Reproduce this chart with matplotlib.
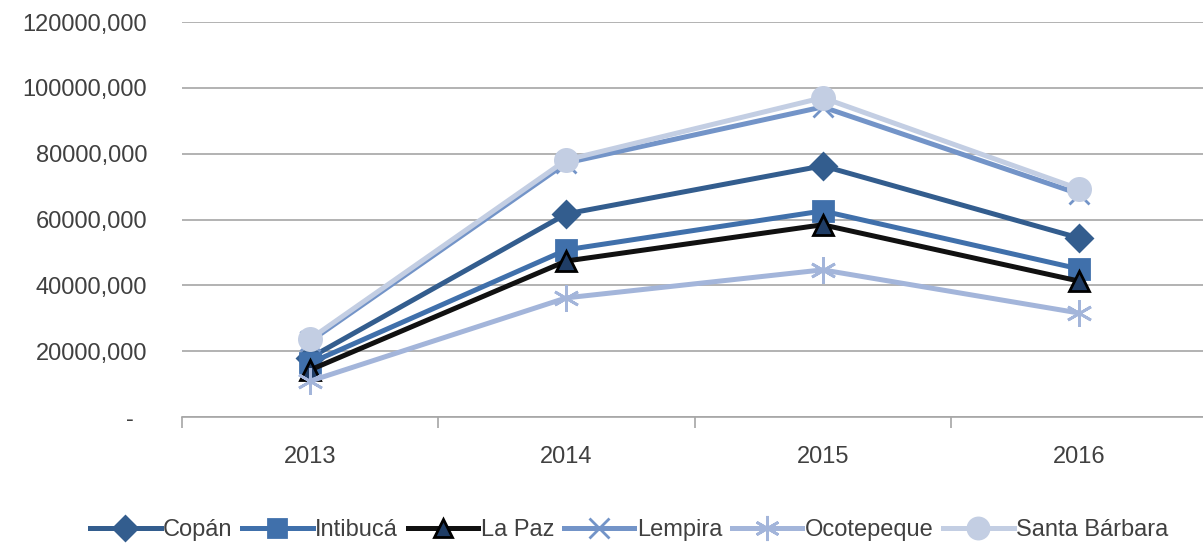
import matplotlib
matplotlib.use("Agg")
import matplotlib.pyplot as plt

years = ["2013", "2014", "2015", "2016"]
copan = [18000, 61700, 76300, 54400]
intibuca = [16400, 50800, 62600, 45000]
la_paz = [14300, 47400, 58400, 41300]
lempira = [23000, 77200, 94200, 67800]
ocotepeque = [10900, 36200, 44700, 31600]
santa_barbara = [23700, 78100, 97000, 69300]
y_ticks = [0, 20000, 40000, 60000, 80000, 100000, 120000]
y_labels = ["-  ", "20000,000", "40000,000", "60000,000", "80000,000", "100000,000", "120000,000"]

plt.rcParams['font.family'] = ['Liberation Sans', 'DejaVu Sans']

fig = plt.figure(figsize=(12.03, 5.44), dpi=100)
ax = fig.add_axes([182 / 1203, 127 / 544, 1025 / 1203, 395 / 544])

x = range(len(years))
series = [
    ("Copán", copan, "#335D8E", "D", 13, "#335D8E", "#335D8E"),
    ("Intibucá", intibuca, "#4070AB", "s", 14, "#4070AB", "#4070AB"),
    ("La Paz", la_paz, "#111111", "^", 14, "#1F3D66", "#000000"),
    ("Lempira", lempira, "#7394C8", "x", 15, "#7394C8", "#7394C8"),
    ("Ocotepeque", ocotepeque, "#A3B5DA", (6, 2, 0), 19, "#A3B5DA", "#A3B5DA"),
    ("Santa Bárbara", santa_barbara, "#C3CEE3", "o", 16, "#C3CEE3", "#C3CEE3"),
]
for name, vals, color, mk, ms, mfc, mec in series:
    ax.plot(x, vals, color=color, lw=3.6, marker=mk, markersize=ms,
            markerfacecolor=mfc, markeredgecolor=mec, markeredgewidth=2.0,
            label=name, zorder=3)

ax.set_xlim(-0.5, 3.5)
ax.set_ylim(0, 120000)
ax.set_yticks(y_ticks)
ax.set_yticklabels(y_labels, fontsize=17, color="#404040")
ax.yaxis.grid(True, color="#A6A6A6", lw=1.2)
ax.set_axisbelow(True)
ax.tick_params(axis="y", length=0, pad=25)

ax.set_xticks([0, 1, 2, 3])
ax.set_xticklabels(years, fontsize=17, color="#404040")
ax.set_xticks([-0.5, 0.5, 1.5, 2.5, 3.5], minor=True)
ax.tick_params(axis="x", which="major", length=0, pad=21)
ax.tick_params(axis="x", which="minor", length=8, width=1.2, color="#A6A6A6", direction="out")

for s in ["top", "right", "left"]:
    ax.spines[s].set_visible(False)
ax.spines["bottom"].set_color("#A6A6A6")
ax.spines["bottom"].set_linewidth(1.2)

leg = fig.legend(loc="center", bbox_to_anchor=(0.523, 0.026), ncol=6, frameon=False,
                 fontsize=17, handlelength=3.0, handletextpad=0.1, columnspacing=0.4,
                 markerscale=0.95)
for t in leg.get_texts():
    t.set_color("#404040")

fig.savefig("out.png", dpi=100)
